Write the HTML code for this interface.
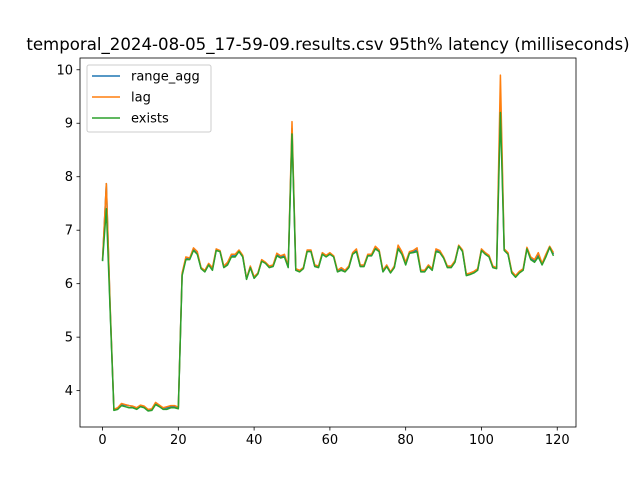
<!DOCTYPE html>
<html><head><meta charset="utf-8"><style>
html,body{margin:0;padding:0;background:#fff}
svg{display:block;font-family:"DejaVu Sans","Liberation Sans",sans-serif}
</style></head><body>
<svg id="chart" width="640" height="480">
<rect x="0" y="0" width="640" height="480" fill="#fff"/>
<text x="328" y="50" text-anchor="middle" font-size="16.6">temporal_2024-08-05_17-59-09.results.csv 95th% latency (milliseconds)</text>
<g id="plot"></g>
</svg>
<script>
const exists=[6.42,7.4,5.5,3.63,3.65,3.72,3.70,3.68,3.68,3.65,3.70,3.68,3.62,3.63,3.74,3.70,3.65,3.65,3.68,3.68,3.66,6.15,6.45,6.45,6.62,6.55,6.28,6.22,6.35,6.25,6.62,6.6,6.3,6.35,6.5,6.5,6.6,6.5,6.08,6.3,6.1,6.18,6.42,6.38,6.3,6.32,6.52,6.48,6.5,6.3,8.8,6.25,6.22,6.28,6.6,6.6,6.32,6.3,6.55,6.5,6.55,6.5,6.22,6.25,6.22,6.3,6.55,6.6,6.32,6.32,6.52,6.52,6.65,6.6,6.22,6.32,6.2,6.3,6.65,6.55,6.35,6.57,6.58,6.6,6.22,6.22,6.32,6.25,6.6,6.58,6.48,6.3,6.3,6.4,6.7,6.6,6.15,6.17,6.2,6.25,6.62,6.55,6.5,6.3,6.28,9.2,6.62,6.55,6.2,6.12,6.2,6.25,6.65,6.45,6.4,6.5,6.35,6.5,6.68,6.52];
const lag=[6.45,7.87,5.6,3.65,3.68,3.76,3.74,3.72,3.71,3.68,3.73,3.71,3.65,3.66,3.78,3.73,3.68,3.70,3.72,3.72,3.69,6.2,6.5,6.48,6.67,6.6,6.3,6.25,6.38,6.3,6.65,6.62,6.33,6.4,6.55,6.55,6.63,6.53,6.1,6.33,6.13,6.2,6.45,6.4,6.33,6.35,6.57,6.52,6.55,6.33,9.03,6.28,6.25,6.3,6.63,6.63,6.35,6.33,6.58,6.53,6.58,6.52,6.25,6.3,6.25,6.33,6.58,6.65,6.35,6.35,6.55,6.55,6.7,6.63,6.25,6.35,6.22,6.33,6.72,6.6,6.4,6.6,6.62,6.67,6.25,6.25,6.35,6.28,6.65,6.62,6.5,6.33,6.33,6.43,6.72,6.63,6.18,6.2,6.23,6.28,6.65,6.58,6.53,6.33,6.3,9.9,6.65,6.58,6.23,6.15,6.23,6.28,6.68,6.5,6.45,6.58,6.38,6.55,6.7,6.58];
const rangeAgg=[6.43,7.87,5.55,3.64,3.66,3.74,3.73,3.72,3.70,3.67,3.72,3.70,3.64,3.65,3.76,3.72,3.67,3.68,3.70,3.70,3.68,6.18,6.47,6.47,6.64,6.57,6.29,6.23,6.36,6.27,6.63,6.61,6.31,6.37,6.52,6.52,6.61,6.51,6.09,6.31,6.11,6.19,6.43,6.39,6.31,6.33,6.54,6.5,6.52,6.31,8.9,6.26,6.23,6.29,6.61,6.61,6.33,6.31,6.56,6.51,6.56,6.51,6.23,6.27,6.23,6.31,6.56,6.62,6.33,6.33,6.53,6.53,6.67,6.61,6.23,6.33,6.21,6.31,6.68,6.57,6.37,6.58,6.6,6.63,6.23,6.23,6.33,6.26,6.62,6.6,6.49,6.31,6.31,6.41,6.71,6.61,6.16,6.18,6.21,6.26,6.63,6.56,6.51,6.31,6.29,9.5,6.63,6.56,6.21,6.13,6.21,6.26,6.66,6.47,6.42,6.53,6.36,6.52,6.69,6.55];
const xTicks=[0,20,40,60,80,100,120];
const yTicks=[4,5,6,7,8,9,10];
const seriesNames=["range_agg","lag","exists"];
const NS="http://www.w3.org/2000/svg";
const L=80,R=576,T=58,B=427;
const xmin=-5.95,xmax=124.95,ymin=3.32,ymax=10.22;
const X=v=>L+(v-xmin)/(xmax-xmin)*(R-L);
const Y=v=>B-(v-ymin)/(ymax-ymin)*(B-T);
const g=document.getElementById('plot');
function mk(t,a){const e=document.createElementNS(NS,t);for(const k in a)e.setAttribute(k,a[k]);g.appendChild(e);return e;}
const colors=["#1f77b4","#ff7f0e","#2ca02c"];
[rangeAgg,lag,exists].forEach((s,i)=>{
 const p=mk('polyline',{points:s.map((v,j)=>X(j)+','+Y(v)).join(' '),fill:'none',stroke:colors[i],'stroke-width':1.5,'stroke-linejoin':'round'});
 
 
});
const frame=mk('rect',{x:L,y:T,width:R-L,height:B-T,fill:'none',stroke:'#000','stroke-width':0.8});


xTicks.forEach(t=>{
 mk('line',{x1:X(t),x2:X(t),y1:B,y2:B+3.5,stroke:'#000','stroke-width':0.8});
 const tx=mk('text',{x:X(t),y:B+17,'text-anchor':'middle','font-size':13});
 tx.textContent=t;
 
 
});
yTicks.forEach(t=>{
 mk('line',{x1:L-3.5,x2:L,y1:Y(t),y2:Y(t),stroke:'#000','stroke-width':0.8});
 const tx=mk('text',{x:L-7,y:Y(t)+4.5,'text-anchor':'end','font-size':13});
 tx.textContent=t;
 
 
});
const lg=mk('rect',{x:87,y:65,width:124,height:67,rx:2,fill:'#fff','fill-opacity':0.8,stroke:'#ccc','stroke-width':1});


seriesNames.forEach((n,i)=>{
 const y=76+i*21;
 mk('line',{x1:92,x2:120,y1:y,y2:y,stroke:colors[i],'stroke-width':1.5});
 const tx=mk('text',{x:131,y:y+4.5,'font-size':13});
 tx.textContent=n;
 
 
});
</script>
</body></html>
